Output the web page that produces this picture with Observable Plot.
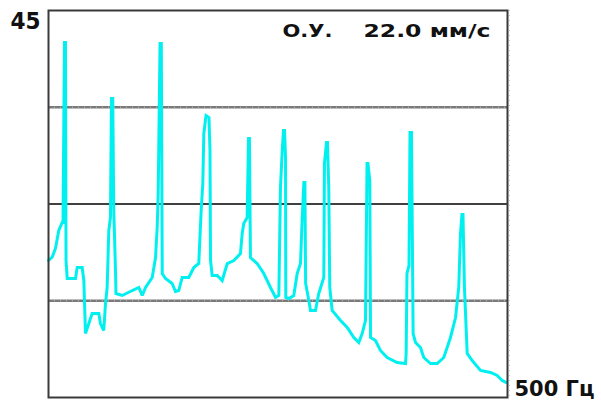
<!DOCTYPE html>
<html>
<head>
<meta charset="utf-8">
<script src="https://cdn.jsdelivr.net/npm/d3@7"></script>
<script src="https://cdn.jsdelivr.net/npm/@observablehq/plot@0.6"></script>
<style>
  html, body { margin: 0; padding: 0; background: #fff; }
  #chart { width: 601px; height: 403px; }
</style>
</head>
<body>
<div id="chart"></div>
<script>
// Spectrum: frequency (Hz) and amplitude (0..45 scale)
const freqs = [0, 4.0, 7.6, 11.2, 14.9, 15.8, 17.4, 18.5, 19.1, 20.4, 29.4, 31.3, 36.7, 38.5, 40.3, 43.9, 47.6, 54.8, 56.6, 60.2, 62.1, 63.9, 65.7, 67.5, 68.6, 70.0, 71.1, 73.0, 73.5, 80.3, 91.2, 98.4, 102.1, 105.7, 113.0, 116.6, 118.4, 119.5, 121.5, 122.9, 123.9, 127.4, 134.7, 138.3, 141.9, 145.6, 152.8, 158.3, 163.7, 166.3, 168.1, 169.2, 171.6, 174.8, 175.9, 176.5, 178.3, 183.8, 189.2, 194.7, 201.9, 209.1, 211.0, 212.7, 216.4, 217.9, 218.9, 220.0, 227.3, 234.5, 241.8, 247.3, 250.9, 252.7, 254.6, 256.0, 257.1, 258.2, 258.5, 261.8, 267.2, 270.9, 274.5, 276.4, 278.2, 279.3, 280.1, 283.6, 285.4, 290.8, 294.4, 299.9, 300.6, 302.8, 303.9, 305.3, 306.4, 309.0, 318.1, 325.4, 332.6, 338.0, 341.7, 345.3, 347.0, 348.0, 350.0, 350.8, 356.2, 361.6, 368.9, 379.8, 388.9, 389.6, 390.5, 392.7, 393.8, 395.4, 397.2, 399.8, 405.2, 408.8, 416.1, 423.4, 430.6, 437.9, 443.4, 446.9, 448.8, 450.4, 451.5, 453.1, 456.1, 461.5, 470.6, 481.5, 488.8, 494.2, 498.9];
const amps  = [15.93, 16.31, 17.33, 19.42, 20.35, 20.35, 41.28, 41.28, 15.93, 13.84, 13.84, 15.12, 15.12, 13.60, 7.44, 8.60, 9.77, 9.77, 8.60, 7.79, 10.93, 12.79, 19.42, 20.93, 34.77, 34.77, 21.74, 14.77, 12.09, 11.86, 12.44, 12.79, 11.86, 12.79, 13.95, 16.28, 19.77, 23.72, 41.16, 41.16, 14.42, 13.84, 13.26, 12.33, 12.44, 13.95, 13.95, 15.12, 15.58, 21.74, 24.88, 30.70, 32.79, 32.56, 28.72, 15.93, 14.19, 14.19, 13.60, 15.58, 15.93, 16.74, 19.07, 20.23, 20.93, 30.12, 30.12, 16.28, 15.58, 14.42, 12.79, 11.63, 11.86, 24.42, 28.72, 31.05, 31.05, 27.91, 11.63, 11.51, 11.86, 14.42, 15.58, 20.93, 25.00, 25.00, 13.26, 11.28, 10.12, 10.12, 12.09, 13.95, 27.21, 29.65, 29.65, 24.42, 12.79, 10.12, 8.95, 8.14, 6.98, 6.40, 7.44, 8.95, 27.21, 27.21, 25.23, 6.98, 6.63, 5.47, 4.65, 4.07, 3.95, 5.12, 14.42, 15.35, 30.81, 30.81, 7.44, 6.40, 5.81, 4.65, 3.95, 3.95, 4.65, 6.98, 9.30, 12.79, 19.07, 21.28, 21.28, 12.79, 5.12, 4.30, 3.14, 2.91, 2.56, 1.98, 1.74];

const yMax = 45;
const xMax = 500;
const yMaxLabel = "45";
const xMaxLabel = "500 Гц";
const titleParts = ["О.У.", "22.0 мм/с"];
const grayLevels = [11.25, 33.75];
const blackLevels = [22.5];

const data = freqs.map((f, i) => ({f, a: amps[i]}));
const font = "DejaVu Sans, sans-serif";

const chart = Plot.plot({
  width: 601,
  height: 403,
  marginLeft: 48,
  marginTop: 10,
  marginRight: 94,
  marginBottom: 6,
  x: {domain: [0, xMax], axis: null},
  y: {domain: [0, yMax], axis: null},
  style: {background: "#fff"},
  marks: [
    Plot.ruleY(grayLevels, {stroke: "#7a7a7a", strokeWidth: 2.5}),
    Plot.ruleY(grayLevels, {stroke: "#bdbdbd", strokeWidth: 1, strokeDasharray: "1,5"}),
    Plot.ruleY(blackLevels, {stroke: "#000", strokeWidth: 1.5}),
    Plot.line(data, {x: "f", y: "a", stroke: "#00f0f0", strokeWidth: 3, strokeLinejoin: "miter", strokeMiterlimit: 2}),
    Plot.frame({stroke: "#3a3a3a", strokeWidth: 2}),
    Plot.ruleX([xMax], {stroke: "#c8c8c8", strokeWidth: 1, strokeDasharray: "1,4", dx: 2}),
    Plot.text([yMaxLabel], {frameAnchor: "top-left", dx: -8, dy: 11.5, textAnchor: "end", lineAnchor: "middle",
      fontSize: 23, fontWeight: "bold", fontFamily: font, fill: "#111"}),
    Plot.text([titleParts[0]], {frameAnchor: "top-left", dx: 234, dy: 21, textAnchor: "start", lineAnchor: "middle",
      fontSize: 17, fontWeight: "bold", fontFamily: font, fill: "#111"}),
    Plot.text([titleParts[1]], {frameAnchor: "top-right", dx: -17, dy: 21, textAnchor: "end", lineAnchor: "middle",
      fontSize: 17, fontWeight: "bold", fontFamily: font, fill: "#111"}),
    Plot.text([xMaxLabel], {frameAnchor: "bottom-right", dx: 7, dy: -8.5, textAnchor: "start", lineAnchor: "middle",
      fontSize: 22, fontWeight: "bold", fontFamily: font, fill: "#111"})
  ]
});

// stretch the labels to the widths seen in the reference
const widths = [30, 50, 127, 80];
d3.select(chart).selectAll('g[aria-label="text"]').each(function(_, i) {
  d3.select(this).selectAll("text")
    .attr("textLength", widths[i])
    .attr("lengthAdjust", "spacingAndGlyphs");
});
document.getElementById("chart").appendChild(chart);
</script>
</body>
</html>
